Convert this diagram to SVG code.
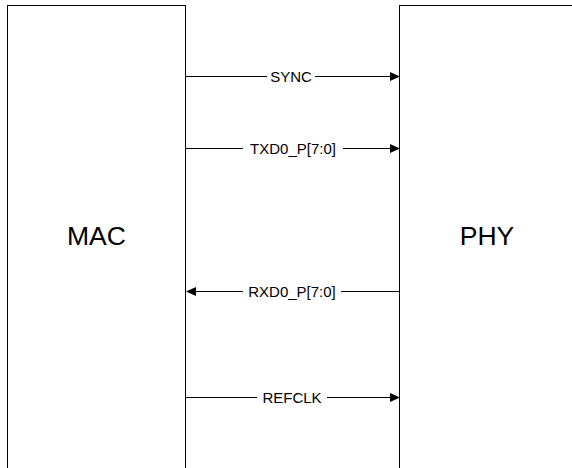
<svg xmlns="http://www.w3.org/2000/svg" width="572" height="468" viewBox="0 0 572 468">
<defs>
<style>
.box{fill:#fff;stroke:#000;stroke-width:1}
.ln{stroke:#000;stroke-width:1;fill:none}
.ah{fill:#000;stroke:none}
.lbl{font-family:"Liberation Sans",Arial,sans-serif;font-size:15px;fill:#000;text-anchor:middle}
.big{font-family:"Liberation Sans",Arial,sans-serif;font-size:26.5px;fill:#000;text-anchor:middle}
.bg{fill:#fff}
</style>
</defs>
<rect width="572" height="468" fill="#fff"/>
<g id="MAC">
<rect class="box" x="7.5" y="5.5" width="178" height="480"/>
<text class="big" x="96.5" y="245">MAC</text>
</g>
<g id="PHY">
<rect class="box" x="399.5" y="5.5" width="178" height="480"/>
<text class="big" x="487" y="245">PHY</text>
</g>
<g id="connectors">
<g id="sync">
<line class="ln" x1="186" y1="76.5" x2="391" y2="76.5"/>
<polygon class="ah" points="400,76.5 390,72 390,81"/>
<rect class="bg" x="267" y="68" width="48" height="17"/>
<text class="lbl" x="291" y="82">SYNC</text>
</g>
<g id="txd">
<line class="ln" x1="186" y1="148.5" x2="391" y2="148.5"/>
<polygon class="ah" points="400,148.5 390,144 390,153"/>
<rect class="bg" x="243" y="140" width="100" height="17"/>
<text class="lbl" x="293" y="154">TXD0_P[7:0]</text>
</g>
<g id="rxd">
<line class="ln" x1="195" y1="291.5" x2="399" y2="291.5"/>
<polygon class="ah" points="186,291.5 196,287 196,296"/>
<rect class="bg" x="243" y="283" width="98" height="17"/>
<text class="lbl" x="292" y="297">RXD0_P[7:0]</text>
</g>
<g id="refclk">
<line class="ln" x1="186" y1="397.5" x2="391" y2="397.5"/>
<polygon class="ah" points="400,397.5 390,393 390,402"/>
<rect class="bg" x="257" y="389" width="70" height="17"/>
<text class="lbl" x="292" y="403">REFCLK</text>
</g>
</g>
</svg>
